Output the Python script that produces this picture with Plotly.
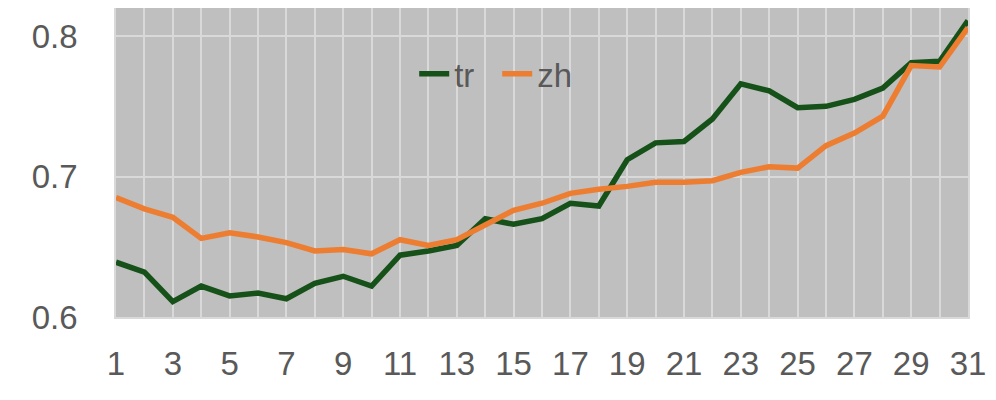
import plotly.graph_objects as go

days = list(range(1, 32))

tr = [0.639, 0.632, 0.611, 0.622, 0.615, 0.617, 0.613, 0.624, 0.629, 0.622,
      0.644, 0.647, 0.651, 0.670, 0.666, 0.670, 0.681, 0.679, 0.712, 0.724,
      0.725, 0.741, 0.766, 0.761, 0.749, 0.750, 0.755, 0.763, 0.781, 0.782,
      0.811]

zh = [0.685, 0.677, 0.671, 0.656, 0.660, 0.657, 0.653, 0.647, 0.648, 0.645,
      0.655, 0.651, 0.655, 0.666, 0.676, 0.681, 0.688, 0.691, 0.693, 0.696,
      0.696, 0.697, 0.703, 0.707, 0.706, 0.722, 0.731, 0.743, 0.779, 0.778,
      0.806]

grid = "#d9d9d9"
txt = "#595959"

fig = go.Figure()
fig.add_trace(go.Scatter(x=days, y=tr, name="tr", mode="lines",
                         line=dict(color="#17511A", width=5.5)))
fig.add_trace(go.Scatter(x=days, y=zh, name="zh", mode="lines",
                         line=dict(color="#ED7D31", width=5.5)))

# page body has an 8px margin, so margins are offset to compensate
fig.update_layout(
    width=996, height=400,
    margin=dict(l=108, r=36, t=0, b=91, autoexpand=False),
    paper_bgcolor="white",
    plot_bgcolor="#bfbfbf",
    font=dict(family="Liberation Sans", size=33, color=txt),
    showlegend=True,
    legend=dict(orientation="h", x=0.35, y=0.787, xanchor="left", yanchor="middle",
                bgcolor="rgba(0,0,0,0)", font=dict(size=33, color=txt),
                itemwidth=30, tracegroupgap=0,
                entrywidth=38, entrywidthmode="pixels"),
)

fig.update_xaxes(
    range=[1, 31], tick0=1, dtick=2, automargin=False,
    showgrid=True, gridcolor=grid, gridwidth=1.5,
    minor=dict(dtick=1, tick0=1, showgrid=True, gridcolor=grid, gridwidth=1.5),
    showline=True, linecolor=grid, linewidth=1.5, mirror=True,
    zeroline=False, ticks="", ticklabelstandoff=17,
)
fig.update_yaxes(
    range=[0.6, 0.82], tick0=0.6, dtick=0.1, tickformat=".1f", automargin=False,
    showgrid=True, gridcolor=grid, gridwidth=1.5,
    showline=True, linecolor=grid, linewidth=1.5, mirror=True,
    zeroline=False, ticks="", ticklabelstandoff=30,
)

fig.write_html("out.html")
